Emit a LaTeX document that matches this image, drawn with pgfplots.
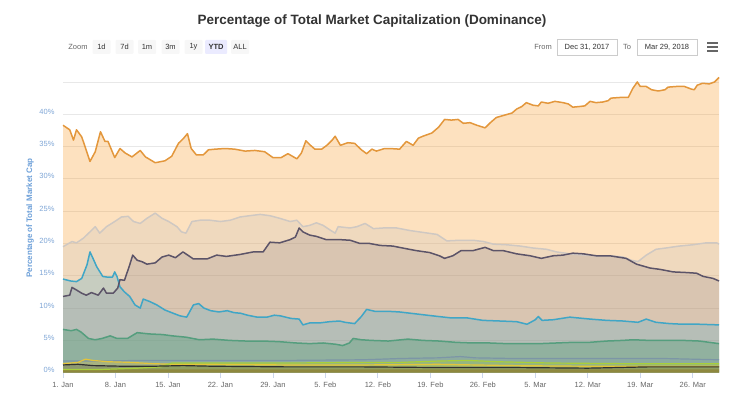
\documentclass[border=0pt]{standalone}
\usepackage{pgfplots}
\pgfplotsset{compat=1.18}
\usepackage{pgfplotstable}
\usepackage{fontspec}
\setmainfont{Liberation Sans}

\definecolor{btc}{HTML}{F7931A}
\definecolor{btcl}{HTML}{E3973C}
\definecolor{oth}{HTML}{C9C2BC}
\definecolor{othl}{HTML}{CFC8C2}
\definecolor{eth}{HTML}{5C5468}
\definecolor{xrp}{HTML}{50AAC8}
\definecolor{xrpl}{HTML}{40A6C6}
\definecolor{bch}{HTML}{3D986B}
\definecolor{bchl}{HTML}{559E7E}
\definecolor{ltc}{HTML}{7C96A6}
\definecolor{ylw}{HTML}{E3C43A}
\definecolor{lime}{HTML}{A8CF3A}
\definecolor{blk}{HTML}{303030}
\definecolor{olive}{HTML}{8E7420}
\definecolor{titlec}{HTML}{333333}
\definecolor{ylab}{HTML}{6C9FD8}
\definecolor{ytl}{HTML}{7FA6D6}
\definecolor{xtl}{HTML}{666666}
\definecolor{gridc}{HTML}{E8E8E8}
\definecolor{axc}{HTML}{CCD6EB}

\pgfplotstableread{
d v
0 38.3
0.9 37.6
1.4 36.0
1.8 37.6
2.5 36.5
3.6 32.7
4.3 34.2
5.0 37.3
5.6 35.8
6.0 35.8
6.9 33.3
7.6 34.7
8.3 34.0
9.2 33.4
10.3 34.4
11.0 33.4
12.3 32.5
13.6 32.8
14.5 33.5
15.4 35.5
16.1 36.3
16.6 37.0
17.1 34.7
17.8 33.7
18.7 33.7
19.4 34.5
20.3 34.6
21.6 34.7
22.9 34.6
24.3 34.3
25.6 34.4
26.9 34.2
28.0 33.3
29.1 33.3
30.0 33.9
31.2 33.1
31.8 34.0
32.4 35.9
33.0 35.2
33.6 34.6
34.5 34.6
35.2 35.2
35.9 36.0
36.3 36.6
37.0 35.2
38.0 35.6
38.9 35.5
39.8 34.5
40.5 33.9
41.2 34.6
41.8 34.3
42.9 34.7
43.6 34.7
44.9 34.6
45.8 35.8
46.7 35.2
47.4 36.3
48.0 36.6
49.2 37.1
50.1 38.0
50.9 39.2
51.8 39.1
52.7 39.2
53.4 38.6
54.3 38.7
55.2 38.3
56.3 37.9
57.0 38.7
57.8 39.5
59.0 39.9
59.9 40.2
60.5 40.8
61.2 41.2
61.8 41.8
62.7 41.4
63.4 41.3
63.8 41.9
64.7 41.7
65.6 42.0
66.7 41.8
67.4 41.6
68.0 41.1
68.9 41.2
69.6 41.3
70.3 42.0
71.1 41.8
72.0 41.9
72.7 42.1
73.1 42.5
74.3 42.6
75.4 42.6
76.0 44.0
76.6 45.0
77.0 44.3
77.8 44.3
78.5 43.8
79.4 43.6
80.3 43.8
80.7 44.2
81.8 44.3
82.9 44.3
83.8 43.9
84.2 43.8
84.6 44.5
85.3 44.8
86.2 44.7
86.9 45.0
87.5 45.7
}\btc

\pgfplotstableread{
d v
0 19.5
1.2 20.3
1.8 20.1
2.7 20.8
3.6 21.8
4.3 22.6
4.9 21.6
5.8 22.6
6.9 23.4
7.8 24.1
8.7 24.2
9.4 23.4
10.3 23.1
11.2 23.9
12.3 24.7
13.2 23.9
14.1 23.4
15.2 22.6
15.8 21.8
16.4 21.6
17.2 23.4
18.3 23.6
19.6 23.6
21.0 23.4
22.3 23.6
23.6 24.1
24.9 24.3
26.3 24.5
27.6 24.3
28.9 23.9
30.3 23.4
31.2 23.6
32.0 22.6
32.9 22.8
33.8 23.2
34.7 22.8
35.6 22.1
36.3 21.6
36.7 22.6
38.3 22.4
39.2 22.6
40.3 23.1
41.4 22.3
42.7 22.4
44.5 22.4
46.3 22.0
48.1 21.7
49.9 21.4
51.2 20.4
53.0 20.5
54.7 20.5
56.1 20.3
57.4 19.9
59.2 19.8
61.0 19.6
62.7 19.3
64.5 19.1
65.8 18.7
67.6 18.4
69.4 18.2
71.1 18.1
72.9 18.1
74.7 17.9
75.8 17.4
76.7 17.2
77.8 18.2
79.1 19.1
80.4 19.3
82.2 19.6
84.0 19.8
85.8 20.1
87.2 20.1
87.5 19.9
}\oth

\pgfplotstableread{
d v
0 11.8
0.9 12.0
1.2 13.2
1.8 12.8
2.5 12.3
3.1 12.0
3.8 12.4
4.7 12.0
5.4 13.1
5.8 12.3
6.7 12.3
7.3 13.1
7.6 14.4
8.2 14.3
8.9 16.7
9.3 18.2
9.9 17.4
10.5 17.2
11.2 16.8
12.3 17.0
13.2 17.9
14.1 18.2
15.0 17.8
16.0 18.7
17.4 17.6
19.2 17.6
20.5 18.2
21.8 18.0
23.6 18.3
25.4 18.7
26.7 18.7
27.6 20.2
28.9 20.1
30.3 20.6
31.0 21.0
31.5 22.4
32.0 21.8
32.9 21.3
33.8 21.1
35.1 20.6
36.0 20.6
36.9 20.6
38.3 20.5
39.6 20.0
40.9 20.0
42.3 19.7
44.0 19.6
45.3 19.3
47.1 18.9
48.9 18.6
50.2 18.1
50.9 17.7
52.0 18.1
53.1 18.9
54.7 18.9
56.3 19.4
57.4 18.9
58.7 18.9
60.5 18.4
62.3 18.1
63.8 17.7
65.4 18.1
66.7 18.2
68.0 18.5
69.4 18.4
71.1 18.1
72.9 18.1
75.1 17.7
76.5 16.8
78.3 16.2
79.6 16.0
81.4 15.6
83.2 15.5
84.5 15.4
85.4 14.9
86.7 14.6
87.5 14.2
}\eth

\pgfplotstableread{
d v
0 14.5
1.0 14.2
1.8 14.1
2.5 14.6
3.2 16.7
3.6 18.7
4.0 17.7
4.5 16.4
5.3 14.9
5.9 14.8
6.6 14.8
6.9 15.6
7.2 14.9
7.6 13.3
8.2 12.5
8.9 11.8
9.6 10.5
10.3 10.0
10.7 11.4
11.6 11.0
12.5 10.5
13.6 9.7
14.7 9.2
15.6 8.8
16.5 8.6
17.4 10.5
18.1 10.7
18.8 10.0
19.7 9.6
20.8 9.4
21.9 9.6
22.8 9.3
23.7 9.2
24.6 8.9
25.9 8.6
27.2 8.6
28.2 8.9
29.0 8.8
30.4 8.4
31.5 8.3
32.0 7.4
32.9 7.7
34.2 7.7
35.6 7.9
36.9 8.0
37.6 7.8
38.9 7.6
39.8 8.7
40.5 9.8
41.6 9.5
43.4 9.5
44.9 9.4
47.1 9.1
49.3 8.8
51.6 8.5
53.8 8.5
56.0 8.1
58.3 8.0
60.5 7.9
61.9 7.5
63.0 8.2
63.4 8.7
63.9 8.1
65.4 8.2
67.6 8.6
68.5 8.5
70.3 8.3
72.5 8.1
74.7 8.0
76.7 7.8
77.8 8.3
79.1 7.8
80.9 7.6
82.7 7.5
84.9 7.5
87.5 7.4
}\xrp

\pgfplotstableread{
d v
0 6.7
1.1 6.5
1.8 6.7
2.4 6.3
3.4 5.3
4.3 5.1
5.2 5.3
6.3 5.7
7.2 5.3
8.6 5.3
9.9 6.2
11.5 6.0
13.3 5.9
14.6 5.7
16.4 5.5
18.2 5.1
20.0 5.2
22.2 5.0
24.4 4.9
26.7 4.9
28.9 4.8
31.1 4.6
32.9 4.5
34.7 4.6
36.4 4.4
37.3 4.2
38.2 4.6
38.7 5.3
39.8 5.1
41.1 5.0
43.4 4.9
46.0 5.2
48.0 5.0
50.2 4.9
52.4 4.7
54.7 4.6
56.9 4.6
59.1 4.5
61.3 4.5
63.6 4.5
65.8 4.6
68.0 4.7
70.2 4.7
72.5 4.9
74.7 5.0
76.0 5.1
78.2 5.0
80.4 5.0
82.7 5.0
84.9 4.9
87.5 4.5
}\bch

\pgfplotstableread{
d v
0 1.8
5 1.8
10 1.9
20 1.9
30 1.9
40 2.0
45 2.2
50 2.3
53 2.5
55 2.3
60 2.2
70 2.2
80 2.2
87.5 2.0
}\ltc

\pgfplotstableread{
d v
0 1.4
2 1.6
3 2.1
4 1.9
6 1.7
9 1.6
12 1.4
15 1.3
20 1.3
30 1.2
40 1.2
50 1.3
60 1.1
70 1.0
80 1.0
87.5 1.0
}\ylw

\pgfplotstableread{
d v
0 0.5
5 0.5
10 0.7
13 0.9
14.5 1.5
20 1.5
30 1.5
40 1.6
45 1.6
50 1.8
54 1.9
58 1.7
65 1.5
75 1.4
87.5 1.4
}\lime

\pgfplotstableread{
d v
0 1.2
2 1.3
4 1.1
8 1.0
12 1.0
16 1.1
20 1.0
30 0.9
40 0.9
50 0.8
60 0.8
70 0.7
78 0.9
87.5 0.9
}\blk

\pgfplotstableread{
d v
0 0.5
20 0.5
40 0.5
60 0.5
87.5 0.5
}\olv

\begin{document}
\begin{tikzpicture}[x=1pt,y=1pt]
\path[use as bounding box] (0,0) rectangle (750,397);
\node[font=\bfseries\fontsize{13.5}{16}\selectfont, text=titlec] at (372,376) {Percentage of Total Market Capitalization (Dominance)};
% range selector
\begin{scope}[font=\fontsize{7.5}{9}\selectfont, text=titlec]
\node[text=xtl] at (78,350) {Zoom};
\foreach \xx/\lab in {101.5/1d,124.5/7d,147/1m,170.5/3m,193.5/1y,240/ALL}{
  \fill[fill=black!3, rounded corners=1pt] (\xx-9,343) rectangle (\xx+9,357);
  \node at (\xx,350) {\lab};
}
\fill[fill=blue!8, rounded corners=1pt] (205,343) rectangle (227,357);
\node[font=\bfseries\fontsize{7.5}{9}\selectfont] at (216,350) {YTD};
\node[text=xtl] at (543,350) {From};
\draw[draw=black!20, fill=white] (557,342) rectangle (617,358);
\node at (587,350) {Dec 31, 2017};
\node[text=xtl] at (627,350) {To};
\draw[draw=black!20, fill=white] (637,342) rectangle (697,358);
\node at (667,350) {Mar 29, 2018};
\draw[line width=1.4pt, draw=xtl] (707,354) -- (718,354) (707,350) -- (718,350) (707,346) -- (718,346);
\end{scope}
\node[rotate=90, font=\bfseries\fontsize{8}{10}\selectfont, text=ylab] at (30,179) {Percentage of Total Market Cap};
\begin{axis}[at={(63pt,24.3pt)}, anchor=south west, width=656pt, height=297.2pt, scale only axis,
  xmin=0, xmax=87.5, ymin=0, ymax=46,
  axis line style={draw=none},
  axis x line*=bottom, axis y line*=left,
  ytick={0,5,...,45}, yticklabels={0\%,5\%,10\%,15\%,20\%,25\%,30\%,35\%,40\%,{}},
  xtick={0,7,...,84},
  xticklabels={1. Jan,8. Jan,15. Jan,22. Jan,29. Jan,5. Feb,12. Feb,19. Feb,26. Feb,5. Mar,12. Mar,19. Mar,26. Mar},
  ymajorgrids, grid style={draw=gridc, line width=0.8pt},
  y tick style={draw=none},
  x tick style={draw=axc, line width=0.8pt},
  tick align=outside, major tick length=5pt,
  yticklabel style={font=\fontsize{7.5}{9}\selectfont, text=ytl, xshift=0pt, yshift=2.5pt},
  xticklabel style={font=\fontsize{7.5}{9}\selectfont, text=xtl, yshift=-1pt},
  clip=false,
]
\draw[draw=axc, line width=0.8pt] (axis cs:0,0) -- (axis cs:87.5,0);
% fills
\addplot[draw=none, fill=btc, fill opacity=0.28] table {\btc} \closedcycle;
\addplot[draw=none, fill=oth, fill opacity=0.25] table {\oth} \closedcycle;
\addplot[draw=none, fill=eth, fill opacity=0.15] table {\eth} \closedcycle;
\addplot[draw=none, fill=xrp, fill opacity=0.25] table {\xrp} \closedcycle;
\addplot[draw=none, fill=bch, fill opacity=0.3] table {\bch} \closedcycle;
\addplot[draw=none, fill=ltc, fill opacity=0.2] table {\ltc} \closedcycle;
\addplot[draw=none, fill=ylw, fill opacity=0.3] table {\ylw} \closedcycle;
\addplot[draw=none, fill=lime, fill opacity=0.3] table {\lime} \closedcycle;
\addplot[draw=none, fill=blk, fill opacity=0.2] table {\blk} \closedcycle;
\addplot[draw=none, fill=olive, fill opacity=0.5] table {\olv} \closedcycle;
% lines
\addplot[draw=othl, line width=1.5pt, line join=round] table {\oth};
\addplot[draw=ltc, line width=1.2pt, line join=round] table {\ltc};
\addplot[draw=ylw, line width=1.2pt, line join=round] table {\ylw};
\addplot[draw=lime, line width=1.2pt, line join=round] table {\lime};
\addplot[draw=blk, line width=1.2pt, line join=round] table {\blk};
\addplot[draw=bchl, line width=1.5pt, line join=round] table {\bch};
\addplot[draw=xrpl, line width=1.5pt, line join=round] table {\xrp};
\addplot[draw=eth, line width=1.5pt, line join=round] table {\eth};
\addplot[draw=btcl, line width=1.5pt, line join=round] table {\btc};
\end{axis}
\end{tikzpicture}
\end{document}
